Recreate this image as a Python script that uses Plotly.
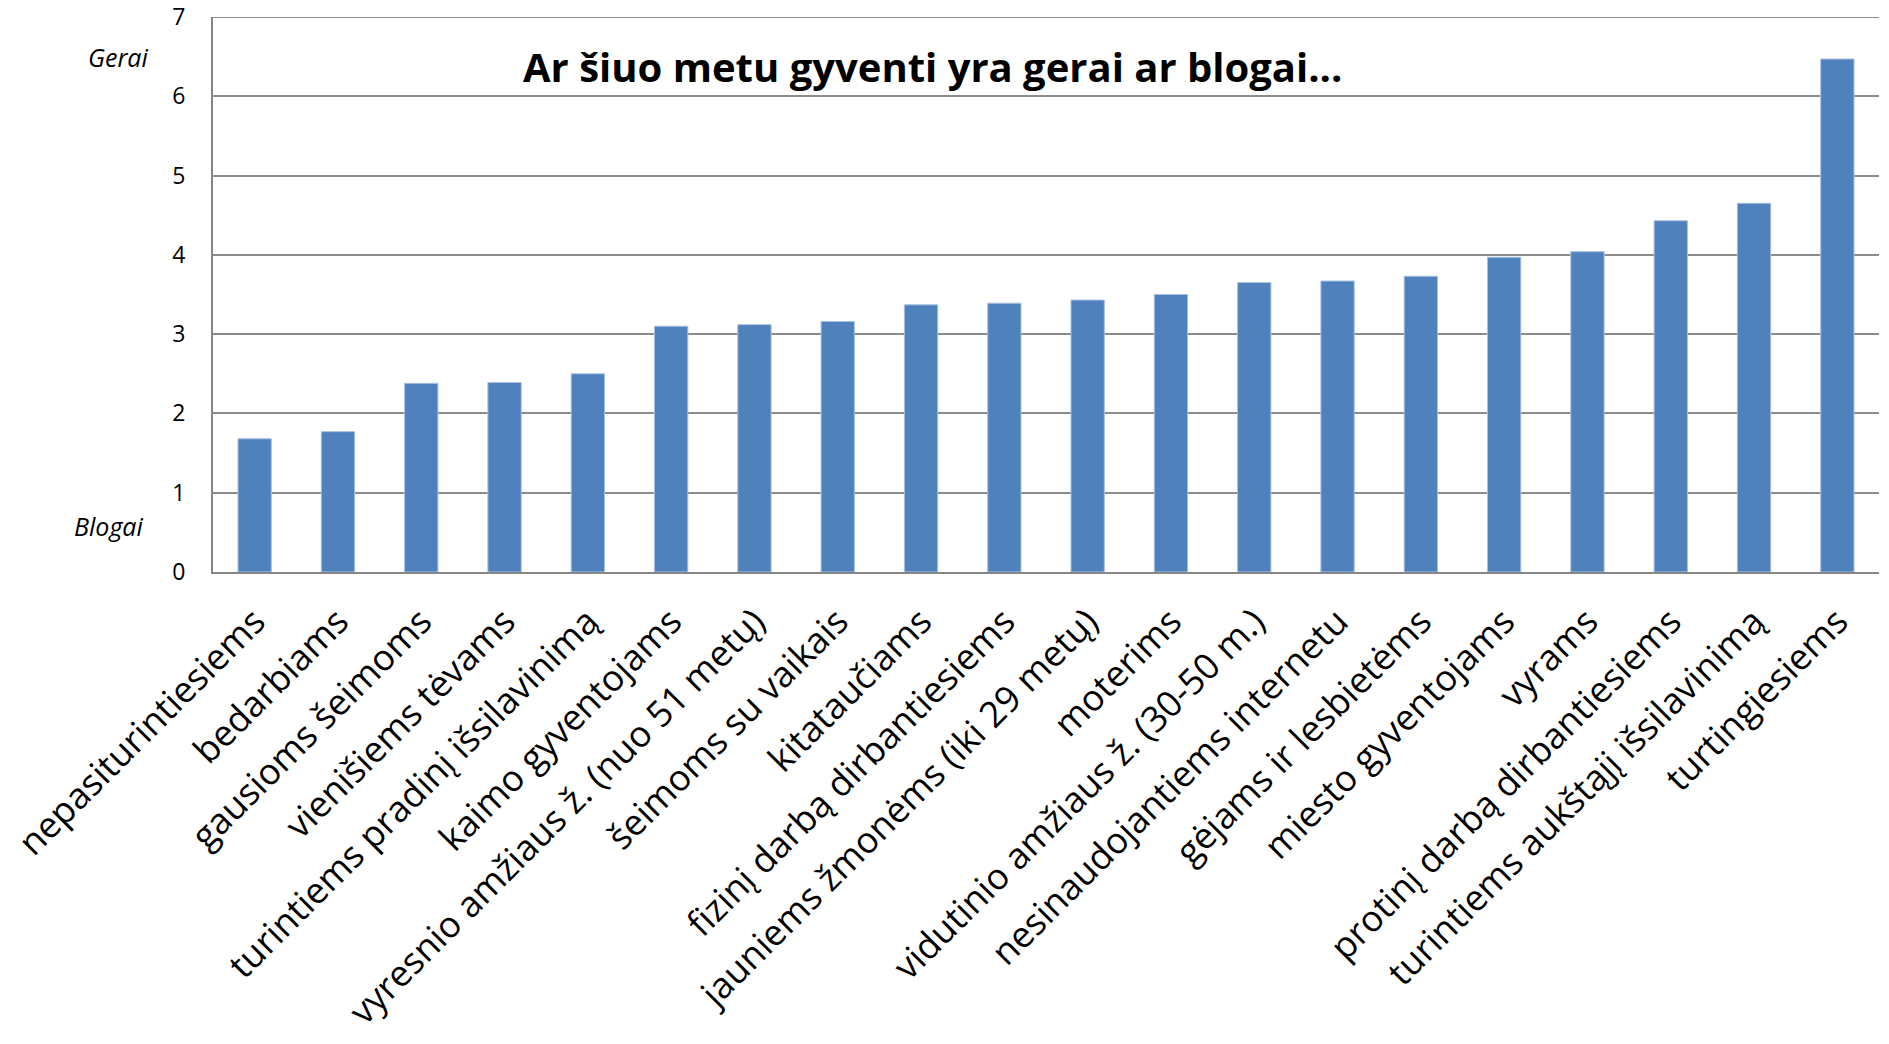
import plotly.graph_objects as go

# Groups and their average rating (0 = Blogai, 7 = Gerai)
groups = [
    "nepasiturintiesiems",
    "bedarbiams",
    "gausioms šeimoms",
    "vienišiems tėvams",
    "turintiems pradinį išsilavinimą",
    "kaimo gyventojams",
    "vyresnio amžiaus ž. (nuo 51 metų)",
    "šeimoms su vaikais",
    "kitataučiams",
    "fizinį darbą dirbantiesiems",
    "jauniems žmonėms (iki 29 metų)",
    "moterims",
    "vidutinio amžiaus ž. (30-50 m.)",
    "nesinaudojantiems internetu",
    "gėjams ir lesbietėms",
    "miesto gyventojams",
    "vyrams",
    "protinį darbą dirbantiesiems",
    "turintiems aukštąjį išsilavinimą",
    "turtingiesiems",
]
scores = [1.68, 1.77, 2.38, 2.39, 2.50, 3.10, 3.12, 3.16, 3.37, 3.39,
          3.43, 3.50, 3.65, 3.67, 3.73, 3.97, 4.04, 4.43, 4.65, 6.47]

y_ticks = [0, 1, 2, 3, 4, 5, 6, 7]
title_text = "Ar šiuo metu gyventi yra gerai ar blogai..."

fig = go.Figure(go.Bar(
    x=groups,
    y=scores,
    marker=dict(color="#4F81BD", line=dict(color="#A7C0E0", width=1)),
))

fig.update_layout(
    width=1889,
    height=1044,
    margin=dict(l=213, r=10, t=17, b=472, autoexpand=False),
    paper_bgcolor="white",
    plot_bgcolor="white",
    bargap=0.6,
    showlegend=False,
    font=dict(family="Open Sans", color="black"),
)

fig.update_xaxes(
    tickangle=-45,
    tickfont=dict(size=36, family="Open Sans"),
    showline=True, linecolor="#868686", linewidth=2,
    ticks="", showgrid=False, automargin=False,
    ticklabelstandoff=12, ticklabeloverflow="allow",
)
fig.update_yaxes(
    range=[0, 7],
    tickvals=y_ticks,
    tickfont=dict(size=23, family="Open Sans"),
    showline=True, linecolor="#868686", linewidth=2,
    showgrid=True, gridcolor="#8C8C8C", gridwidth=2,
    zeroline=False, automargin=False,
    ticks="", ticklabelstandoff=21, ticklabeloverflow="allow",
)

# top gridline at the range end
fig.add_hline(y=y_ticks[-1], line_color="#8C8C8C", line_width=2, layer="below")

# Scale meaning labels
fig.add_annotation(text="<i>Gerai</i>", xref="paper", yref="y", x=-0.038, y=6.5,
                   xanchor="right", yanchor="middle", showarrow=False,
                   font=dict(size=25, family="Open Sans"))
fig.add_annotation(text="<i>Blogai</i>", xref="paper", yref="y", x=-0.04, y=0.58,
                   xanchor="right", yanchor="middle", showarrow=False,
                   font=dict(size=25, family="Open Sans"))

fig.add_annotation(text="<b>" + title_text + "</b>", xref="paper", yref="y",
                   x=0.432, y=6.38, xanchor="center", yanchor="middle",
                   showarrow=False, font=dict(size=40, family="Open Sans"))

# drop the default 8px page margin so the figure fills the window exactly
fig.write_html("out.html", config={"displayModeBar": False},
               post_script="document.body.style.margin = '0';")
